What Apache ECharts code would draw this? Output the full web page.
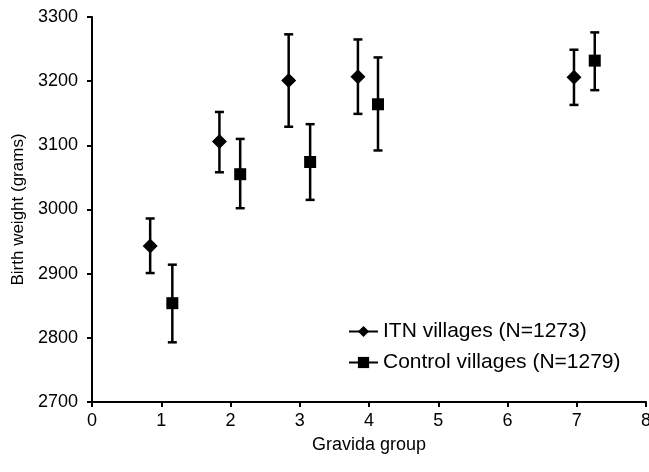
<!DOCTYPE html>
<html>
<head>
<meta charset="utf-8">
<script src="https://cdn.jsdelivr.net/npm/echarts@6/dist/echarts.min.js"></script>
<style>
  html, body { margin: 0; padding: 0; background: #fff; }
  #chart { width: 649px; height: 472px; }
</style>
</head>
<body>
<div id="chart"></div>
<script>
// values
const itnX = [0.84, 1.84, 2.84, 3.84, 6.96];
const itnMean = [2943, 3106, 3201, 3207, 3206];
const itnLow = [2901, 3058, 3129, 3149, 3163];
const itnHigh = [2986, 3152, 3273, 3265, 3249];

const ctlX = [1.16, 2.14, 3.15, 4.13, 7.26];
const ctlMean = [2854, 3055, 3074, 3164, 3232];
const ctlLow = [2793, 3002, 3015, 3092, 3186];
const ctlHigh = [2914, 3110, 3133, 3237, 3276];

const seriesNames = ["ITN villages (N=1273)", "Control villages (N=1279)"];

const FONT = "'Liberation Sans', Arial, sans-serif";

function errorBars(xs, lows, highs) {
  return {
    type: "custom",
    silent: true,
    z: 1,
    data: xs.map((x, i) => [x, lows[i], highs[i]]),
    encode: { x: 0, y: [1, 2] },
    renderItem: function (params, api) {
      const lo = api.coord([api.value(0), api.value(1)]);
      const hi = api.coord([api.value(0), api.value(2)]);
      const cap = 4.5;
      const style = { stroke: "#000", lineWidth: 2.5 };
      return {
        type: "group",
        children: [
          { type: "line", shape: { x1: lo[0], y1: lo[1], x2: hi[0], y2: hi[1] }, style: style },
          { type: "line", shape: { x1: lo[0] - cap, y1: lo[1], x2: lo[0] + cap, y2: lo[1] }, style: style },
          { type: "line", shape: { x1: hi[0] - cap, y1: hi[1], x2: hi[0] + cap, y2: hi[1] }, style: style },
        ],
      };
    },
  };
}

const myChart = echarts.init(document.getElementById("chart"));
const option = {
  animation: false,
  backgroundColor: "#fff",
  grid: { left: 92, right: 3, top: 17, bottom: 70, outerBoundsMode: "none", containLabel: false },
  legend: {
    data: seriesNames,
    orient: "vertical",
    left: 343,
    top: 316,
    itemGap: 10,
    itemWidth: 29,
    itemHeight: 14,
    textStyle: { color: "#000", fontSize: 21, fontFamily: FONT },
    lineStyle: { color: "#000", width: 2, opacity: 1 },
  },
  xAxis: {
    type: "value",
    min: 0,
    max: 8,
    interval: 1,
    name: "Gravida group",
    nameLocation: "middle",
    nameGap: 34,
    nameTextStyle: { color: "#000", fontSize: 18, fontFamily: FONT },
    axisLine: { lineStyle: { color: "#000", width: 2 } },
    axisTick: { show: true, length: 5, lineStyle: { color: "#000", width: 2 } },
    axisLabel: { color: "#000", fontSize: 18, fontFamily: FONT, margin: 10, formatter: (v) => String(v) },
    splitLine: { show: false },
  },
  yAxis: {
    type: "value",
    min: 2700,
    max: 3300,
    interval: 100,
    name: "Birth weight (grams)",
    nameLocation: "middle",
    nameRotate: 90,
    nameGap: 62,
    nameTextStyle: { color: "#000", fontSize: 17, fontFamily: FONT },
    axisLine: { show: true, lineStyle: { color: "#000", width: 2 } },
    axisTick: { show: true, length: 5, lineStyle: { color: "#000", width: 2 } },
    axisLabel: { color: "#000", fontSize: 18, fontFamily: FONT, margin: 14, formatter: (v) => String(v) },
    splitLine: { show: false },
  },
  series: [
    errorBars(itnX, itnLow, itnHigh),
    errorBars(ctlX, ctlLow, ctlHigh),
    {
      name: seriesNames[0],
      type: "line",
      z: 3,
      data: itnX.map((x, i) => [x, itnMean[i]]),
      symbol: "diamond",
      symbolSize: 15,
      showAllSymbol: true,
      itemStyle: { color: "#000" },
      lineStyle: { width: 0, opacity: 0 },
    },
    {
      name: seriesNames[1],
      type: "line",
      z: 3,
      data: ctlX.map((x, i) => [x, ctlMean[i]]),
      symbol: "rect",
      symbolSize: 12,
      showAllSymbol: true,
      itemStyle: { color: "#000" },
      lineStyle: { width: 0, opacity: 0 },
    },
  ],
};
myChart.setOption(option);
</script>
</body>
</html>
